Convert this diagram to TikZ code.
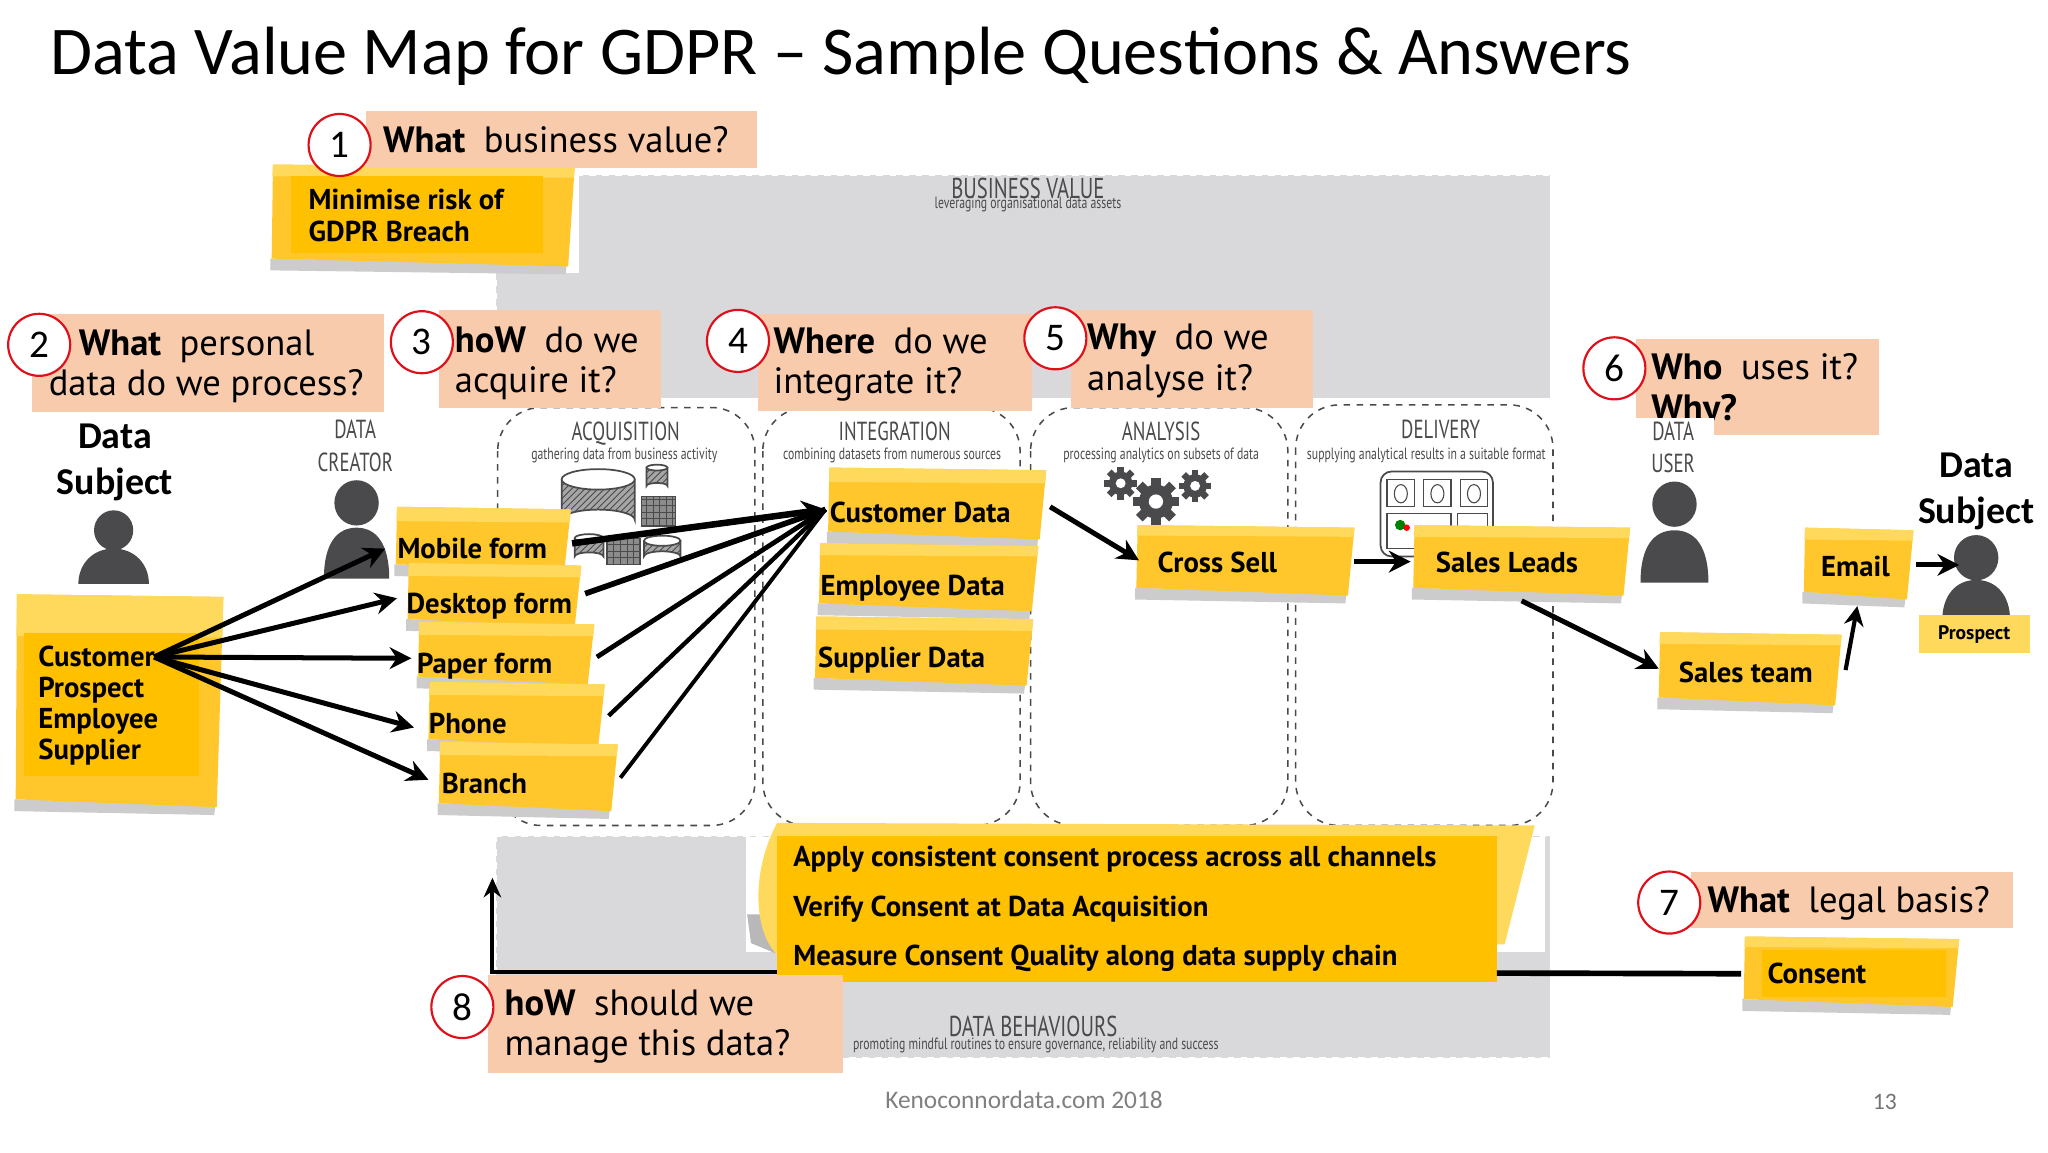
\documentclass[tikz,border=0pt]{standalone}
\usepackage{fontspec}
\setmainfont{Carlito}
\newfontfamily\notefont{PT Sans}
\newfontfamily\sketchfont[FakeStretch=0.72]{PT Sans}
\usetikzlibrary{arrows.meta,patterns}
\definecolor{qbox}{HTML}{F8CBAD}
\definecolor{redring}{HTML}{E0101A}
\definecolor{greyzone}{HTML}{D9D9DB}
\definecolor{notelight}{HTML}{FFD95C}
\definecolor{notemain}{HTML}{FFC72C}
\definecolor{noteinner}{HTML}{FFC000}
\definecolor{sketchink}{HTML}{4A4A4C}
\newcommand\fpx[2]{\fontsize{\fpeval{#1*0.6}pt}{\fpeval{#2*0.6}pt}\selectfont}
\tikzset{
  x=0.6pt,y=-0.6pt,
  qboxstyle/.style={fill=qbox,inner sep=0pt},
  qtext/.style={anchor=west,inner sep=0pt,align=left,font=\notefont\fpx{28}{31}},
  ring/.style={circle,draw=redring,fill=white,line width=1pt,minimum size=28.5pt,inner sep=0pt,font=\fpx{30}{30}},
  notetext/.style={anchor=west,inner sep=0pt,align=left,font=\notefont\bfseries\fpx{22}{24}},
  oneline/.style={notetext,text height=9.2pt,text depth=0pt},
  noterect/.style={rectangle,inner sep=0pt,outer sep=0pt},
  conn/.style={line width=2.3pt,-{Stealth[length=10pt,width=10pt]}},
  connthin/.style={line width=1.9pt,-{Stealth[length=9pt,width=9pt]}},
  stagebox/.style={draw=sketchink,dashed,line width=0.7pt,rounded corners=20pt,fill=white},
  headtext/.style={font=\sketchfont\fpx{20}{20},text=sketchink,inner sep=0pt},
  bighead/.style={font=\sketchfont\fpx{22}{22},text=sketchink,inner sep=0pt},
  subtext/.style={font=\sketchfont\fpx{12.5}{13},text=sketchink,inner sep=0pt},
  subjecttext/.style={font=\bfseries\fpx{29}{35},align=center,inner sep=0pt},
}
% sticky note: name, x1, y1, x2, y2, band height
\newcommand\sticky[6]{%
  \fill[black!20] (#2+1,#5-8) -- (#4-6,#5-4) -- (#4-7,#5+4) -- (#2+1,#5+1) -- cycle;
  \fill[notemain] (#2+3,#3) -- (#4,#3+2) -- (#4-5,#5-2) -- (#2+2,#5-8) -- cycle;
  \fill[notelight] (#2+3,#3) -- (#4,#3+2) -- (#4-.7,#3+#6) -- (#2+2.5,#3+#6-1) -- cycle;
  \node[noterect,minimum width={(#4-#2)*0.6pt},minimum height={(#5-#3)*0.6pt}] (#1) at ({(#2+#4)/2},{(#3+#5)/2}) {};
}
\newcommand\personicon[6]{% cx, head cy, head r, body top, body bottom, half width
  \fill[sketchink] (#1,#2) ellipse ({#3} and {#3*1.02});
  \fill[sketchink] (#1-#6,#5) .. controls (#1-#6,#4+12) and (#1-#6*.6,#4) .. (#1,#4)
     .. controls (#1+#6*.6,#4) and (#1+#6,#4+12) .. (#1+#6,#5) -- cycle;
}
\newcommand\gearicon[3]{%
  \fill[sketchink] (#1,#2) circle (#3);
  \foreach \a in {0,45,90,135}{
    \fill[sketchink,rotate around={\a:(#1,#2)}] (#1-#3*.28,#2-#3*1.38) rectangle (#1+#3*.28,#2+#3*1.38);
  }
  \fill[white] (#1,#2) circle (#3*.42);
}
\newcommand\cylicon[4]{% cx, top, half width, bottom
  \draw[sketchink,line width=.8pt,preaction={fill=black!35},pattern=north east lines,pattern color=sketchink] (#1-#3,#2) -- (#1-#3,#4) arc[start angle=180,end angle=360,x radius=#3,y radius=#3*.28] -- (#1+#3,#2);
  \draw[sketchink,line width=.8pt,fill=white] (#1,#2) ellipse ({#3} and {#3*.28});
}
\newcommand\gridicon[4]{%
  \draw[sketchink,line width=.5pt,preaction={fill=black!45},pattern=grid,pattern color=sketchink] (#1,#2) rectangle (#3,#4);
}
\begin{document}
\begin{tikzpicture}
\useasboundingbox (0,0) rectangle (1568,882);
\fill[white] (0,0) rectangle (1568,882);
% title
\node[anchor=west,inner sep=0pt,font=\fpx{52.3}{54}] (title) at (38,43) {Data Value Map for GDPR – Sample Questions \& Answers};
% grey zones
\fill[greyzone] (380,134) rectangle (1187,305);
\fill[greyzone] (380,640) rectangle (1187,810);
\draw[white,dashed,line width=.6pt] (380,134) rectangle (1187,305);
\draw[white,dashed,line width=.6pt] (380,640) rectangle (1187,810);
\fill[white] (200,123) rectangle (443,209);
\fill[white] (571,641) rectangle (1183,729);
\node[bighead] (bv) at (787,144) {BUSINESS VALUE};
\node[subtext] (bvs) at (787,156.5) {leveraging organisational data assets};
\node[bighead] (db) at (791,786) {DATA BEHAVIOURS};
\node[subtext] (dbs) at (793,800.5) {promoting mindful routines to ensure governance, reliability and success};
% stages
\draw[stagebox] (381,312) rectangle (578,632);
\draw[stagebox] (584,312) rectangle (781,632);
\draw[stagebox] (789,312) rectangle (986,632);
\draw[stagebox] (992,310) rectangle (1189,632);
\node[headtext] (s1) at (479,332) {ACQUISITION};
\node[subtext] (s1s) at (478,349) {gathering data from business activity};
\node[headtext] (s2) at (685,330) {INTEGRATION};
\node[subtext] (s2s) at (683,349) {combining datasets from numerous sources};
\node[headtext] (s3) at (889,330) {ANALYSIS};
\node[subtext] (s3s) at (889,349) {processing analytics on subsets of data};
\node[headtext] (s4) at (1103,329) {DELIVERY};
\node[subtext] (s4s) at (1092,349) {supplying analytical results in a suitable format};
% icons
\cylicon{458}{367}{28}{398}
\cylicon{503}{358}{8}{372}
\gridicon{491}{380}{517}{403}
\gridicon{464}{412}{490}{432}
\cylicon{507}{414}{14}{426}
\cylicon{451}{412}{11}{426}
\gearicon{858}{370}{9}
\gearicon{885}{384}{13}
\gearicon{915}{372}{9}
\draw[sketchink,line width=.8pt,rounded corners=5pt,fill=white] (1057,361) rectangle (1143,426);
\foreach \gx in {1062,1090,1118}{
  \draw[sketchink,line width=.6pt] (\gx,367) rectangle (\gx+21,388);
  \draw[sketchink,line width=.5pt] (\gx+10.5,378) ellipse (5 and 7);
}
\draw[sketchink,line width=.6pt] (1062,393) rectangle (1111,420);
\draw[sketchink,line width=.6pt] (1116,393) rectangle (1139,420);
\fill[green!50!black] (1072,402) circle (4);
\fill[red] (1077,404) circle (2.5);
% people and their labels
\node[subjecttext] (ds1) at (88,354) {Data\\Subject};
\personicon{87}{406}{15}{420}{447}{27}
\node[headtext] (dc1) at (272,329) {DATA};
\node[headtext] (dc2) at (272,354) {CREATOR};
\personicon{273}{385}{17}{404}{443}{25}
\node[headtext] (du2) at (1281,355) {USER};
\personicon{1282}{386}{17}{406}{446}{26}
\node[subjecttext] (ds2) at (1513,376) {Data\\Subject};
\personicon{1513}{427}{17}{444}{475}{26}
\node[rectangle,fill=notelight,minimum width=51pt,minimum height=17.4pt,inner sep=0pt,font=\notefont\bfseries\fpx{15}{15}] (prospect) at (1511.5,485.5) {Prospect};
% customer list note
\sticky{customers}{10}{455}{171}{620}{33}
\fill[noteinner] (18,485) rectangle (152,594);
\node[notetext,font=\notefont\bfseries\fpx{22}{23.7}] (customerst) at (29,540) {Customer\\Prospect\\Employee\\Supplier};
% note 1
\sticky{minimise}{206}{126}{440}{206}{10}
\fill[noteinner] (223,135) rectangle (416,194);
\node[notetext,font=\notefont\bfseries\fpx{22}{25}] (minimiset) at (236,165) {Minimise risk of\\GDPR Breach};
% forms
\sticky{mobile}{301}{388}{437}{440}{12}
\node[oneline] (mobilet) at (304,420) {Mobile form};
\sticky{desktop}{310}{431}{445}{482}{11}
\node[oneline] (desktopt) at (311,462) {Desktop form};
\sticky{paper}{318}{476}{455}{526}{11}
\node[oneline] (papert) at (319,508) {Paper form};
\sticky{phone}{326}{522}{463}{574}{11}
\node[oneline] (phonet) at (328,554) {Phone};
\sticky{branch}{334}{568}{473}{623}{11}
\node[oneline] (brancht) at (338,600) {Branch};
% data notes
\sticky{custdata}{632}{358}{801}{415}{12}
\node[oneline] (custdatat) at (635,392) {Customer Data};
\sticky{empdata}{625}{416}{795}{470}{10}
\node[oneline] (empdatat) at (628,448) {Employee Data};
\sticky{supdata}{622}{472}{791}{527}{11}
\node[oneline] (supdatat) at (626,503) {Supplier Data};
\sticky{crosssell}{868}{402}{1037}{458}{9}
\node[oneline] (crosssellt) at (886,431) {Cross Sell};
\sticky{salesleads}{1080}{402}{1248}{458}{10}
\node[oneline] (salesleadst) at (1099,431) {Sales Leads};
\sticky{salesteam}{1268}{484}{1410}{542}{10}
\node[oneline] (salesteamt) at (1285,515) {Sales team};
\sticky{email}{1379}{404}{1465}{461}{10}
\node[oneline] (emailt) at (1394,434) {Email};
\sticky{consent}{1333}{717}{1500}{773}{9}
\fill[noteinner] (1349,727) rectangle (1490,763);
\node[oneline] (consentt) at (1353,745) {Consent};
% plan note
\fill[black!28] (572,700) -- (594,700) -- (594,730) -- (575,722) -- cycle;
\fill[notelight] (595,630) -- (1175,632) -- (1152,723) -- (594,730) .. controls (576,710) and (576,665) .. cycle;
\node[noterect,fill=noteinner,minimum width=330.6pt,minimum height=67.2pt,anchor=north west] (plan) at (595,640) {};
\node[notetext,font=\notefont\bfseries\fpx{22}{38}] (plant) at (607,696) {Apply consistent consent process across all channels\\Verify Consent at Data Acquisition\\Measure Consent Quality along data supply chain};
% connectors
\coordinate (hub) at (118,503);
\draw[conn] (hub) -- ([shift={(-6,6)}]mobile.west);
\draw[conn] (hub) -- ([shift={(-6,1.5)}]desktop.west);
\draw[conn] (hub) -- ([shift={(-3,3)}]paper.west);
\draw[conn] (hub) -- ([shift={(-9,9)}]phone.west);
\draw[conn] (hub) -- ([shift={(-6,1.5)}]branch.west);
\coordinate (fan) at (632,390);
\draw[line width=3pt,-{Stealth[length=11pt,width=11pt]}] ([shift={(1,2)}]mobile.east) -- (fan);
\draw[line width=2.6pt] ([shift={(3,-2)}]desktop.east) -- (fan);
\draw[line width=2.2pt] ([shift={(2,2)}]paper.east) -- (fan);
\draw[line width=2pt] ([shift={(3,0)}]phone.east) -- (fan);
\draw[line width=1.8pt] ([shift={(2,0)}]branch.east) -- (fan);
\draw[conn] ([shift={(3,1.5)}]custdata.east) -- ([shift={(4,-1)}]crosssell.west);
\draw[conn] (crosssell.east) -- (salesleads.west);
\draw[conn] ([shift={(1,30)}]salesleads.center) -- ([shift={(2,-1)}]salesteam.west);
\draw[connthin] ([shift={(3,0)}]salesteam.east) -- ([shift={(0,3)}]email.south);
\draw[conn] ([shift={(2,0)}]email.east) -- ++(33,0);
\coordinate (plantop) at (377,672);
\draw[line width=1.9pt,-{Stealth[length=9pt,width=8pt]}] ([shift={(0,-8)}]plan.south west) -| (plantop);
\draw[line width=2.6pt] ([shift={(0,-7)}]plan.south east) -- ([shift={(0,0.5)}]consent.west);
% question boxes
\node[qboxstyle,anchor=north west,minimum width=179.4pt,minimum height=25.8pt] (q1) at (280,85) {};
\node[qtext] (q1t) at (293,107) {\bfseries What\ \ \mdseries business value?};
\node[ring] (c1) at (260,111) {1};
\node[qboxstyle,anchor=north west,minimum width=162pt,minimum height=45pt] (q2) at (24,240) {};
\node[qtext] (q2t) at (37,280.5) {\hspace{13.8pt}\bfseries What\ \ \mdseries personal\\data do we process?};
\node[ring] (c2) at (30,264) {2};
\node[qboxstyle,anchor=north west,minimum width=102pt,minimum height=45pt] (q3) at (336,237) {};
\node[qtext] (q3t) at (348,278) {\bfseries hoW\ \ \mdseries do we\\acquire it?};
\node[ring] (c3) at (323,262) {3};
\node[qboxstyle,anchor=north west,minimum width=126pt,minimum height=44.4pt] (q4) at (580,240) {};
\node[qtext] (q4t) at (592,279) {\bfseries Where\ \ \mdseries do we\\integrate it?};
\node[ring] (c4) at (565,261) {4};
\node[qboxstyle,anchor=north west,minimum width=111pt,minimum height=45pt] (q5) at (820,237) {};
\node[qtext] (q5t) at (832,276.5) {\bfseries Why\ \ \mdseries do we\\analyse it?};
\node[ring] (c5) at (808,259) {5};
\node[qboxstyle,anchor=north west,minimum width=111.6pt,minimum height=44.4pt] (q6) at (1252,259) {};
\node[qtext] (q6t) at (1264,299) {\bfseries Who\ \ \mdseries uses it?\\\bfseries Why?};
\fill[white] (1252,320) rectangle (1312,333.5);
\node[headtext] (du1) at (1281,330) {DATA};
\node[ring] (c6) at (1236,282) {6};
\node[qboxstyle,anchor=north west,minimum width=148.2pt,minimum height=25.8pt] (q7) at (1294,667) {};
\node[qtext] (q7t) at (1307,691.5) {\bfseries What\ \ \mdseries legal basis?};
\node[ring] (c7) at (1278,691) {7};
\node[qboxstyle,anchor=north west,minimum width=163.2pt,minimum height=45pt] (q8) at (373,746) {};
\node[qtext] (q8t) at (386,786) {\bfseries hoW\ \ \mdseries should we\\manage this data?};
\node[ring] (c8) at (354,771) {8};
% footer
\node[inner sep=0pt,text=black!50,font=\fpx{19.4}{19.4}] (footer) at (784,842) {Kenoconnordata.com 2018};
\node[inner sep=0pt,text=black!55,font=\fpx{18}{18}] (pageno) at (1443,844) {13};
\end{tikzpicture}
\end{document}
